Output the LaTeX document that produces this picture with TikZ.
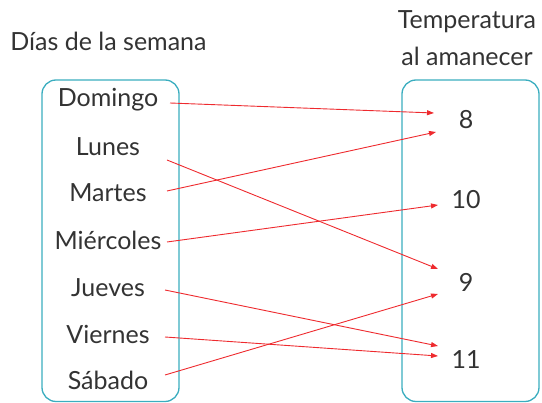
\documentclass[tikz,border=0pt]{standalone}
\usepackage{fontspec}
\setmainfont{Lato}
\usetikzlibrary{arrows.meta}
\definecolor{boxc}{HTML}{3AADBF}
\definecolor{txt}{HTML}{333333}
\definecolor{arr}{HTML}{EE2A2E}
\begin{document}
\begin{tikzpicture}[x=1pt,y=-1pt,
  every node/.style={inner sep=0pt,text=txt,font=\fontsize{25}{30}\selectfont},
  item/.style={anchor=center},
  frame/.style={draw=boxc,line width=1.3pt,rounded corners=14pt},
  link/.style={draw=arr,line width=0.9pt,-{Triangle[length=7pt,width=5pt]}}]
\useasboundingbox (0,0) rectangle (542,403);
\draw[frame] (42,80) rectangle (179,401.5);
\draw[frame] (402,80) rectangle (539,401.5);
\node (t1) at (108.5,41) {Días de la semana};
\node (t2) at (467,22) {Temperatura};
\node (t3) at (467,56) {al amanecer};
\node[item] (dom) at (108,100) {Domingo};
\node[item] (lun) at (108,147) {Lunes};
\node[item] (mar) at (108,193) {Martes};
\node[item] (mie) at (108,240) {Miércoles};
\node[item] (jue) at (108,288) {Jueves};
\node[item] (vie) at (108,334) {Viernes};
\node[item] (sab) at (108,380) {Sábado};
\node[item] (v8) at (466,120) {8};
\node[item] (v10) at (466,200) {10};
\node[item] (v9) at (466,282) {9};
\node[item] (v11) at (466,360) {11};
\coordinate (sdom) at (170,103);
\coordinate (slun) at (167,160);
\coordinate (smar) at (167,191);
\coordinate (smie) at (167,242);
\coordinate (sjue) at (165,290);
\coordinate (svie) at (165,337);
\coordinate (ssab) at (165,375);
\coordinate (e8a) at (434,113);
\coordinate (e8b) at (436,132);
\coordinate (e10) at (438,205);
\coordinate (e9a) at (438,269);
\coordinate (e9b) at (438,294);
\coordinate (e11a) at (438,346);
\coordinate (e11b) at (438,356);
\draw[link] (sdom) -- (e8a);
\draw[link] (slun) -- (e9a);
\draw[link] (smar) -- (e8b);
\draw[link] (smie) -- (e10);
\draw[link] (sjue) -- (e11a);
\draw[link] (svie) -- (e11b);
\draw[link] (ssab) -- (e9b);
\end{tikzpicture}
\end{document}
